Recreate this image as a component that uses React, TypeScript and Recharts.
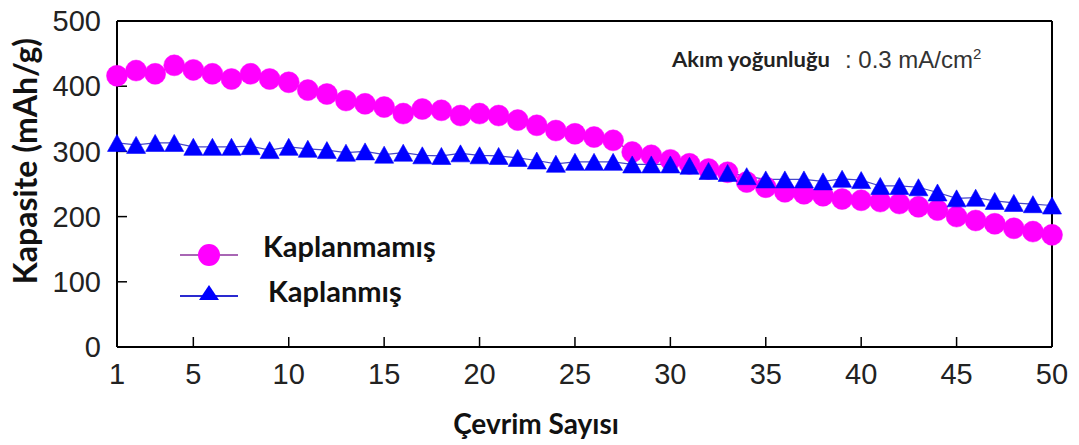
import React from 'react';
import { LineChart, Line, XAxis, YAxis, ReferenceLine, Legend } from 'recharts';

// Cycle numbers (x axis)
const cycles = [
  1, 2, 3, 4, 5, 6, 7, 8, 9, 10,
  11, 12, 13, 14, 15, 16, 17, 18, 19, 20,
  21, 22, 23, 24, 25, 26, 27, 28, 29, 30,
  31, 32, 33, 34, 35, 36, 37, 38, 39, 40,
  41, 42, 43, 44, 45, 46, 47, 48, 49, 50,
];

// Capacity of the uncoated electrode, mAh/g
const kaplanmamis = [
  416, 424, 419, 432, 425, 419, 411, 419, 411, 406,
  394, 388, 378, 373, 368, 358, 365, 363, 355, 358,
  355, 348, 340, 332, 327, 322, 317, 299, 294, 287,
  281, 273, 268, 253, 245, 238, 235, 232, 227, 225,
  223, 220, 215, 210, 200, 194, 189, 182, 177, 172,
];

// Capacity of the coated electrode, mAh/g
const kaplanmis = [
  313, 310, 313, 313, 307, 307, 307, 308, 302, 307,
  304, 302, 298, 300, 295, 298, 294, 293, 297, 294,
  293, 290, 286, 281, 284, 284, 284, 280, 280, 280,
  278, 270, 267, 262, 257, 257, 257, 254, 258, 256,
  247, 247, 245, 237, 228, 229, 224, 221, 219, 217,
];

const xTicks = [1, 5, 10, 15, 20, 25, 30, 35, 40, 45, 50];
const yTicks = [0, 100, 200, 300, 400, 500];

const seriesNames = { kaplanmamis: 'Kaplanmamış', kaplanmis: 'Kaplanmış' };

const MAGENTA = '#ff00ff';
const BLUE = '#0000ff';
const BOLD_FONT = 'Lato, "Open Sans", sans-serif';
const TICK_FONT = '"Liberation Sans", Arial, Helvetica, sans-serif';

const data = cycles.map((c, i) => ({
  cycle: c,
  kaplanmamis: kaplanmamis[i],
  kaplanmis: kaplanmis[i],
}));

// Filled upward triangle marker for the coated series
const TriangleDot = (props: any) => {
  const { cx, cy, index } = props;
  if (cx == null || cy == null) return <g key={`tri-${index}`} />;
  const hw = 9.5;
  const h = 17;
  return (
    <path
      key={`tri-${index}`}
      d={`M${cx},${cy - h / 2} L${cx + hw},${cy + h / 2} L${cx - hw},${cy + h / 2} Z`}
      fill={BLUE}
      stroke={BLUE}
      strokeWidth={0.6}
    />
  );
};

const renderLegend = (props: any) => {
  const payload = props.payload || [];
  const rowY = [30, 70];
  return (
    <svg width={300} height={95} style={{ overflow: 'visible' }}>
      {payload.map((entry: any, i: number) => {
        const y = rowY[i] ?? 30 + i * 40;
        const isTri = entry.dataKey === 'kaplanmis';
        return (
          <g key={entry.dataKey}>
            <line
              x1={10}
              x2={68}
              y1={isTri ? y + 1 : y}
              y2={isTri ? y + 1 : y}
              stroke={isTri ? '#2a2ad0' : '#a866b4'}
              strokeWidth={2}
            />
            {isTri ? (
              <path d={`M39,${y - 10} L49,${y + 5} L29,${y + 5} Z`} fill={BLUE} />
            ) : (
              <circle cx={39} cy={y} r={11} fill={MAGENTA} />
            )}
            <text
              x={isTri ? 98 : 93}
              y={isTri ? y + 7 : y + 2}
              fontFamily={BOLD_FONT}
              fontWeight={700}
              fontSize={29}
              fill="#111"
            >
              {entry.value}
            </text>
          </g>
        );
      })}
    </svg>
  );
};

const YTitle = () => (
  <text
    transform="translate(37,161) rotate(-90)"
    textAnchor="middle"
    fontFamily={BOLD_FONT}
    fontWeight={700}
    fontSize={32}
    fill="#111"
  >
    Kapasite (mAh/g)
  </text>
);

const XTitle = () => (
  <text
    x={536}
    y={434}
    textAnchor="middle"
    fontFamily={BOLD_FONT}
    fontWeight={700}
    fontSize={28}
    fill="#111"
  >
    Çevrim Sayısı
  </text>
);

export default function App() {
  return (
    <div style={{ position: 'absolute', left: 0, top: 0, width: 1079, height: 445, background: '#fff' }}>
      <LineChart
        width={1079}
        height={445}
        data={data}
        margin={{ top: 21, right: 27, bottom: 0, left: 0 }}
      >
        <XAxis
          dataKey="cycle"
          type="number"
          domain={[1, 50]}
          ticks={xTicks}
          interval={0}
          height={98}
          axisLine={{ stroke: '#000', strokeWidth: 2 }}
          tickLine={{ stroke: '#000', strokeWidth: 1.5 }}
          tickSize={-10}
          tickMargin={26}
          tick={{ fill: '#222', fontSize: 29, fontFamily: TICK_FONT }}
          label={{ content: XTitle }}
        />
        <YAxis
          type="number"
          domain={[0, 500]}
          ticks={yTicks}
          interval={0}
          width={117}
          axisLine={{ stroke: '#000', strokeWidth: 2 }}
          tickLine={{ stroke: '#000', strokeWidth: 1.5 }}
          tickSize={-10}
          tickMargin={26}
          tick={{ fill: '#222', fontSize: 29, fontFamily: TICK_FONT }}
          label={{ content: YTitle }}
        />
        <ReferenceLine y={500} stroke="#000" strokeWidth={2} />
        <ReferenceLine x={50} stroke="#000" strokeWidth={2} />
        <Legend
          layout="horizontal"
          verticalAlign="middle"
          align="center"
          content={renderLegend}
          wrapperStyle={{ position: 'absolute', left: 170, top: 225, width: 300, height: 95 }}
        />
        <Line
          dataKey="kaplanmamis"
          name={seriesNames.kaplanmamis}
          stroke="#b04ab8"
          strokeWidth={1.5}
          dot={{ r: 10.5, fill: MAGENTA, stroke: MAGENTA, strokeWidth: 0.5 }}
          activeDot={false}
          isAnimationActive={false}
        />
        <Line
          dataKey="kaplanmis"
          name={seriesNames.kaplanmis}
          stroke="#4848c8"
          strokeWidth={1.2}
          dot={TriangleDot}
          activeDot={false}
          isAnimationActive={false}
        />
      </LineChart>
      <svg
        width={1079}
        height={445}
        style={{ position: 'absolute', left: 0, top: 0, pointerEvents: 'none' }}
      >
        <text x={672} y={67} fontFamily={BOLD_FONT} fontWeight={700} fontSize={21} fill="#222" textLength={158} lengthAdjust="spacingAndGlyphs">
          Akım yoğunluğu
        </text>
        <text x={845} y={68} fontFamily={TICK_FONT} fontSize={24} fill="#333">
          : 0.3 mA/cm
          <tspan dy={-9} fontSize={15}>2</tspan>
        </text>
      </svg>
    </div>
  );
}
